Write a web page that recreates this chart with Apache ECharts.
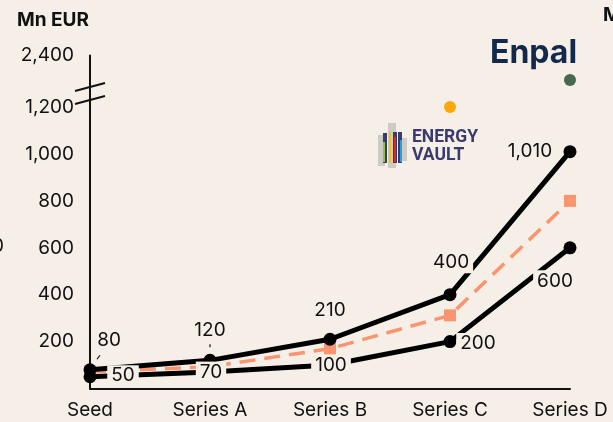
<!DOCTYPE html>
<html>
<head>
<meta charset="utf-8">
<script src="https://cdn.jsdelivr.net/npm/echarts@6/dist/echarts.min.js"></script>
<style>
  html, body { margin: 0; padding: 0; background: #f5efe8; }
  #chart { width: 613px; height: 422px; }
</style>
</head>
<body>
<div id="chart"></div>
<script>
// Funding round valuations (Mn EUR)
const categories = ['Seed', 'Series A', 'Series B', 'Series C', 'Series D'];
const topValues = [80, 120, 210, 400, 1010];
const medianValues = [70, 93, 170, 312, 800];
const bottomValues = [50, 70, 100, 200, 600];
const yTickValues = [200, 400, 600, 800, 1000, 1200, 2400];
const yTickLabels = ['200', '400', '600', '800', '1,000', '1,200', '2,400'];

// Company markers sitting near / above the axis break
const logoRounds = ['Series C', 'Series D'];
const logoValues = [1200, 1830];
const logoColors = ['#fba90a', '#45684f'];

// Axis is linear up to 1,200; 1,200 .. 2,400 is squeezed into a short segment
const BREAK_AT = 1200;
const BREAK_SPAN = 1200;
const BREAK_SPAN_DRAWN = 220;
const toAxis = v => v <= BREAK_AT ? v : BREAK_AT + (v - BREAK_AT) * BREAK_SPAN_DRAWN / BREAK_SPAN;
const AXIS_MAX = toAxis(2400);
const fmt = v => v.toLocaleString('en-US');

const FONT = 'Inter';
const INK = '#111111';
const BG = '#f5efe8';

// label placement around each point: [dx, dy]
const topOffsets = [[19, -29], [0, -30], [0, -29], [1, -32], [-40, 0]];
const bottomOffsets = [[33, -1], [1, 0], [1, 0], [28, 2], [-15, 33]];

const labelBase = {
  show: true,
  position: 'inside',
  color: INK,
  fontFamily: FONT,
  fontSize: 19,
  align: 'center',
  verticalAlign: 'middle'
};

function labelSeries(values, offsets, boxed) {
  return {
    type: 'scatter',
    z: 20,
    symbolSize: 1,
    itemStyle: { color: 'rgba(0,0,0,0)', opacity: 1 },
    silent: true,
    data: values.map((v, i) => ({
      value: [categories[i], v],
      label: Object.assign({}, labelBase, {
        offset: offsets[i],
        formatter: fmt(v),
        backgroundColor: boxed[i] ? BG : 'transparent',
        padding: boxed[i] ? [1, 4] : 0
      })
    }))
  };
}

const chart = echarts.init(document.getElementById('chart'), null, { renderer: 'canvas' });

const option = {
  animation: false,
  backgroundColor: BG,
  grid: { left: 90, right: 43, top: 55.5, bottom: 33.5, outerBoundsMode: 'none', containLabel: false },
  xAxis: {
    type: 'category',
    data: categories,
    boundaryGap: false,
    axisLine: { lineStyle: { color: INK, width: 2 } },
    axisTick: { show: false },
    axisLabel: { color: INK, fontFamily: FONT, fontSize: 19, margin: 12 },
    splitLine: { show: false }
  },
  yAxis: {
    type: 'value',
    min: 0,
    max: AXIS_MAX,
    axisLine: { show: true, lineStyle: { color: INK, width: 2 } },
    axisTick: { show: false },
    splitLine: { show: false },
    axisLabel: {
      color: INK, fontFamily: FONT, fontSize: 19, margin: 16,
      customValues: yTickValues.map(toAxis),
      formatter: v => {
        const i = yTickValues.findIndex(t => Math.abs(toAxis(t) - v) < 1e-6);
        return i >= 0 ? yTickLabels[i] : '';
      }
    }
  },
  title: {
    text: 'Mn EUR',
    left: 12, top: 6,
    textStyle: { color: INK, fontFamily: FONT, fontSize: 19, fontWeight: 'bold' }
  },
  series: [
    {
      type: 'line',
      z: 3,
      data: medianValues,
      symbol: 'rect',
      symbolSize: 12,
      lineStyle: { color: '#fa956f', width: 3.5, type: [16, 9] },
      itemStyle: { color: '#fa956f' }
    },
    {
      type: 'line',
      z: 4,
      data: bottomValues,
      symbol: 'circle',
      symbolSize: 13,
      lineStyle: { color: '#000', width: 5 },
      itemStyle: { color: '#000' }
    },
    {
      type: 'line',
      z: 5,
      data: topValues,
      symbol: 'circle',
      symbolSize: 13,
      lineStyle: { color: '#000', width: 5 },
      itemStyle: { color: '#000' }
    },
    {
      type: 'scatter',
      z: 6,
      symbolSize: 12,
      itemStyle: { opacity: 1 },
      data: logoValues.map((v, i) => ({
        value: [logoRounds[i], toAxis(v)],
        itemStyle: { color: logoColors[i] }
      }))
    },
    labelSeries(topValues, topOffsets, [false, false, false, true, false]),
    labelSeries(bottomValues, bottomOffsets, [true, true, true, true, true])
  ]
};

chart.setOption(option);

// axis break marks, placed between 1,200 and 2,400
const bp = chart.convertToPixel({ gridIndex: 0 }, [0, 1258]);
const bx = bp[0], by = bp[1];

// short leader ticks under the first two top labels
const seedTop = chart.convertToPixel({ gridIndex: 0 }, [0, topValues[0]]);
const aTop = chart.convertToPixel({ gridIndex: 0 }, [1, topValues[1]]);

// Energy Vault mark: stacked bars
const vaultBars = [
  { x: 378, y: 135, w: 7, h: 31, c: 'rgba(160,160,160,0.45)' },
  { x: 388, y: 123, w: 8, h: 45, c: 'rgba(160,160,160,0.45)' },
  { x: 401, y: 138, w: 6, h: 23, c: 'rgba(160,160,160,0.45)' },
  { x: 383, y: 133, w: 4, h: 30, c: '#3b3a6e' },
  { x: 393, y: 132, w: 4, h: 31, c: '#3b3a6e' },
  { x: 398, y: 132, w: 4, h: 31, c: '#3b3a6e' },
  { x: 383, y: 142, w: 2, h: 20, c: '#8cc63f' },
  { x: 389, y: 132, w: 2, h: 31, c: '#f2c318' },
  { x: 394, y: 137, w: 2, h: 25, c: '#e0262b' },
  { x: 400, y: 140, w: 2, h: 22, c: '#1fa3e0' }
];

chart.setOption({
  graphic: [
    {
      type: 'line', z: 50,
      shape: { x1: bx - 15, y1: by - 2.5, x2: bx + 15, y2: by - 10.5 },
      style: { stroke: INK, lineWidth: 2 }
    },
    {
      type: 'line', z: 50,
      shape: { x1: bx - 15, y1: by + 10.5, x2: bx + 15, y2: by + 2.5 },
      style: { stroke: INK, lineWidth: 2 }
    },
    {
      type: 'line', z: 50,
      shape: { x1: seedTop[0] + 7, y1: seedTop[1] - 10.5, x2: seedTop[0] + 10, y2: seedTop[1] - 14.5 },
      style: { stroke: INK, lineWidth: 1.2 }
    },
    {
      type: 'line', z: 50,
      shape: { x1: aTop[0], y1: aTop[1] - 13, x2: aTop[0], y2: aTop[1] - 16 },
      style: { stroke: INK, lineWidth: 1.2 }
    },
    {
      type: 'text', left: 490, top: 37, z: 50,
      style: { text: 'Enpal', fill: '#13294b', font: 'bold 32px Inter' }
    },
    ...vaultBars.map(b => ({
      type: 'rect', z: 50,
      shape: { x: b.x, y: b.y, width: b.w, height: b.h },
      style: { fill: b.c }
    })),
    {
      type: 'text', left: 412, top: 129, z: 50,
      style: { text: 'ENERGY', fill: '#3b3a6e', font: 'bold 17.5px Roboto' }
    },
    {
      type: 'text', left: 412, top: 147, z: 50,
      style: { text: 'VAULT', fill: '#3b3a6e', font: 'bold 17.5px Roboto' }
    },
    {
      type: 'text', left: 603, top: 6, z: 50,
      style: { text: 'Mn EUR', fill: INK, font: 'bold 19px Inter' }
    },
    {
      type: 'text', right: 609, top: 237, z: 50,
      style: { text: '0', fill: INK, font: '19px Inter' }
    }
  ]
});
</script>
</body>
</html>
